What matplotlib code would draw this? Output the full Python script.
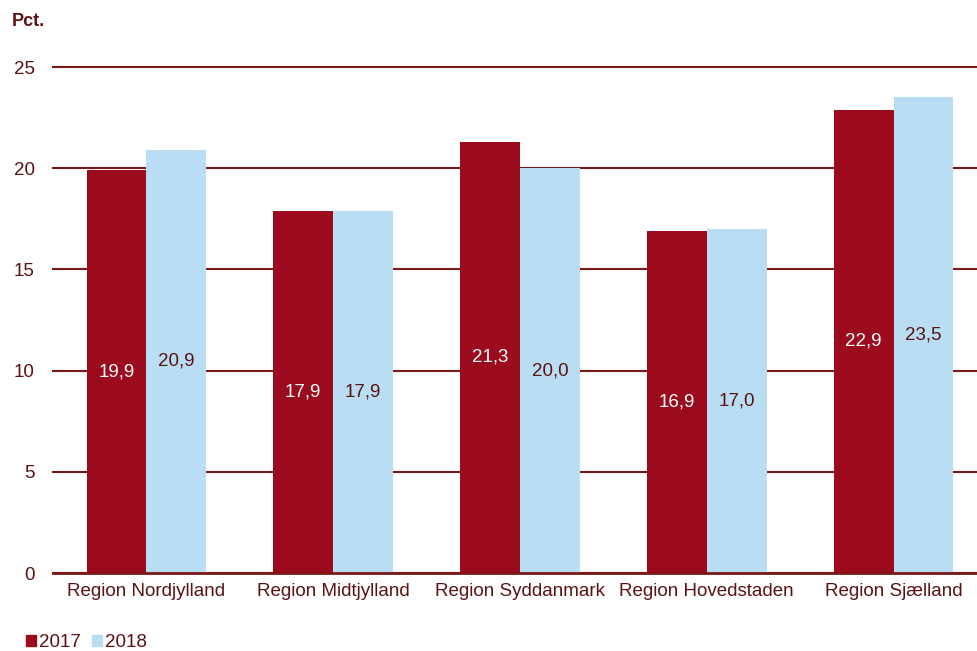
import matplotlib.pyplot as plt
import numpy as np
from matplotlib.patches import Patch

plt.rcParams['font.family'] = ['Liberation Sans', 'DejaVu Sans']

regioner = ["Region Nordjylland", "Region Midtjylland", "Region Syddanmark",
            "Region Hovedstaden", "Region Sjælland"]
v2017 = [19.9, 17.9, 21.3, 16.9, 22.9]
v2018 = [20.9, 17.9, 20.0, 17.0, 23.5]
yticks = [0, 5, 10, 15, 20, 25]

rod = "#9b0b1d"
bla = "#b9ddf3"
tekst = "#5a1212"
linje = "#781818"

fig = plt.figure(figsize=(9.77, 6.51), dpi=100)
# plottet fortsætter lidt ud over højre kant, som i originalen
ax = fig.add_axes([53 / 977, 78 / 651, 934 / 977, 506 / 651])

x = np.arange(len(regioner))
b = 0.32
ax.bar(x - b / 2, v2017, b, color=rod, zorder=3)
ax.bar(x + b / 2, v2018, b, color=bla, zorder=3)

for i in range(len(regioner)):
    ax.text(x[i] - b / 2, v2017[i] / 2, f"{v2017[i]:.1f}".replace(".", ","),
            ha="center", va="center", color="white", fontsize=13.5, zorder=4)
    ax.text(x[i] + b / 2, v2018[i] / 2, f"{v2018[i]:.1f}".replace(".", ","),
            ha="center", va="center", color=tekst, fontsize=13.5, zorder=4)

ax.set_xlim(-0.5, len(regioner) - 0.5)
ax.set_ylim(0, 25)
ax.set_yticks(yticks)
ax.set_yticklabels([str(t) for t in yticks])
ax.set_xticks(x)
ax.set_xticklabels(regioner)
ax.yaxis.grid(True, color=linje, linewidth=1.5, zorder=1)
for gl in ax.get_ygridlines():
    gl.set_clip_on(False)
ax.tick_params(axis="both", length=0, labelsize=13.5, colors=tekst)
ax.tick_params(axis="y", pad=13)
ax.tick_params(axis="x", pad=7)
for s in ["top", "right", "left"]:
    ax.spines[s].set_visible(False)
ax.spines["bottom"].set_color(linje)
ax.spines["bottom"].set_linewidth(2)
ax.spines["bottom"].set_zorder(5)

fig.text(12 / 977, 1 - 21 / 651, "Pct.", fontsize=13, fontweight="bold",
         color=tekst, va="center")

fig.legend(handles=[Patch(color=rod, label="2017"), Patch(color=bla, label="2018")],
           loc="lower left", bbox_to_anchor=(9 / 977, -17 / 651), ncol=2, frameon=False,
           fontsize=13.5, handlelength=0.55, handleheight=0.55, handletextpad=0.15,
           columnspacing=0.6, labelcolor=tekst)

plt.savefig("out.png", dpi=100)
